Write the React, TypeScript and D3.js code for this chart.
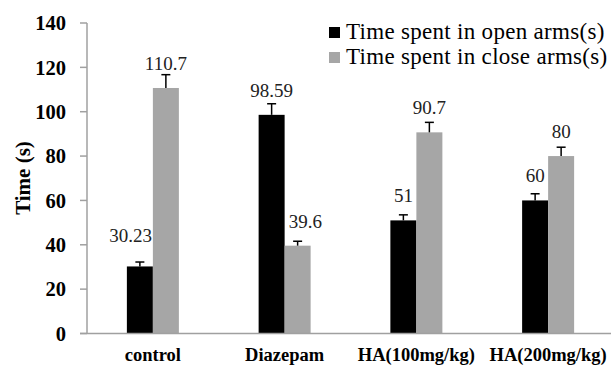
import React from "react";
import * as d3 from "d3";

const categories = ["control", "Diazepam", "HA(100mg/kg)", "HA(200mg/kg)"];
const openArms = [30.23, 98.59, 51, 60];
const closeArms = [110.7, 39.6, 90.7, 80];
const openErr = [2, 5, 2.5, 3];
const closeErr = [6, 2, 4.5, 4];
const openLabels = ["30.23", "98.59", "51", "60"];
const closeLabels = ["110.7", "39.6", "90.7", "80"];
const yTicks = [0, 20, 40, 60, 80, 100, 120, 140];
const seriesNames = ["Time spent in open arms(s)", "Time spent in close arms(s)"];
const colors = ["#000000", "#a6a6a6"];

const W = 611;
const H = 369;
const FONT = "'Liberation Serif', 'Times New Roman', serif";
const LABEL_SIZE = 19;

function labelWidth(s: string) {
  let w = 0;
  for (const ch of s) w += ch === "." ? 0.25 : 0.5;
  return w * LABEL_SIZE;
}

export default function App() {
  const x = d3.scaleBand<string>().domain(categories).range([87, 614]);
  const y = d3.scaleLinear().domain([0, 140]).range([333.5, 23]);
  const barW = 26;
  const series = [
    { vals: openArms, errs: openErr, labels: openLabels, off: -barW },
    { vals: closeArms, errs: closeErr, labels: closeLabels, off: 0 },
  ];
  const labels: { x: number; y: number; t: string }[] = [];
  series.forEach((s, si) => {
    categories.forEach((c, i) => {
      const cx = (x(c) as number) + x.bandwidth() / 2;
      const bc = cx + s.off + barW / 2;
      const top = y(s.vals[i]);
      let baseline = top - 18;
      const w = labelWidth(s.labels[i]);
      let lx = bc;
      const other = series[1 - si];
      const otherTop = y(other.vals[i]);
      if (otherTop < baseline) {
        if (si === 0) lx = Math.min(lx, cx - 1 - w / 2);
        else lx = Math.max(lx, cx + 4 + w / 2);
        if (si === 0 && lx !== bc) baseline -= 6;
      }
      labels.push({ x: lx, y: baseline, t: s.labels[i] });
    });
  });
  return (
    <svg width={W} height={H} style={{ position: "absolute", left: 0, top: 0, background: "#fff" }}>
      <line x1={87} x2={87} y1={y(140)} y2={y(0)} stroke="#a0a0a0" strokeWidth={1.5} />
      {yTicks.map((t) => (
        <g key={t}>
          <line x1={80} x2={87} y1={y(t)} y2={y(t)} stroke="#a0a0a0" strokeWidth={1.5} />
          <text x={66} y={y(t)} dy="0.35em" textAnchor="end" fontFamily={FONT} fontWeight="bold" fontSize={20.5}>
            {t}
          </text>
        </g>
      ))}
      {series.map((s, si) =>
        categories.map((c, i) => {
          const cx = (x(c) as number) + x.bandwidth() / 2;
          const bx = cx + s.off;
          const top = y(s.vals[i]);
          const et = y(s.vals[i] + s.errs[i]);
          return (
            <g key={`${si}-${i}`}>
              <rect x={bx} y={top} width={barW} height={y(0) - top} fill={colors[si]} />
              <line x1={bx + barW / 2} x2={bx + barW / 2} y1={top} y2={et} stroke="#000" strokeWidth={1.5} />
              <line x1={bx + barW / 2 - 4.5} x2={bx + barW / 2 + 4.5} y1={et} y2={et} stroke="#000" strokeWidth={1.5} />
            </g>
          );
        })
      )}
      {labels.map((l, i) => (
        <text key={i} x={l.x} y={l.y} textAnchor="middle" fontFamily={FONT} fontSize={LABEL_SIZE} fill="#222">
          {l.t}
        </text>
      ))}
      <line x1={80} x2={W} y1={y(0)} y2={y(0)} stroke="#a0a0a0" strokeWidth={1.5} />
      {categories.map((c) => (
        <text key={c} x={(x(c) as number) + x.bandwidth() / 2} y={361} textAnchor="middle" fontFamily={FONT} fontWeight="bold" fontSize={18.5}>
          {c}
        </text>
      ))}
      <text transform={`translate(30,178) rotate(-90)`} textAnchor="middle" fontFamily={FONT} fontWeight="bold" fontSize={21}>
        Time (s)
      </text>
      {seriesNames.map((n, i) => (
        <g key={n}>
          <rect x={329} y={27 + i * 25} width={11} height={11} fill={colors[i]} />
          <text x={346} y={38.5 + i * 25} fontFamily={FONT} fontSize={23} letterSpacing={0.3}>
            {n}
          </text>
        </g>
      ))}
    </svg>
  );
}
